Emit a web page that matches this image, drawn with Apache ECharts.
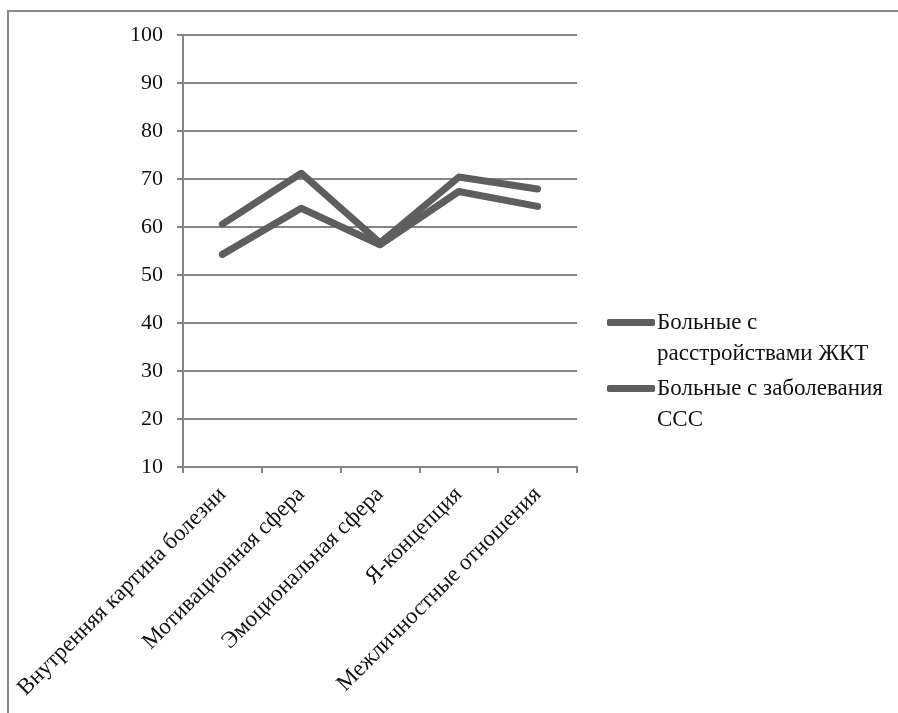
<!DOCTYPE html>
<html>
<head>
<meta charset="utf-8">
<script src="https://cdn.jsdelivr.net/npm/echarts@6/dist/echarts.min.js"></script>
<style>
  html, body { margin: 0; padding: 0; background: #fff; }
  #chart { width: 898px; height: 713px; }
</style>
</head>
<body>
<div id="chart"></div>
<script>
// Categories of the personality scales
const categories = [
  'Внутренняя картина болезни',
  'Мотивационная сфера',
  'Эмоциональная сфера',
  'Я-концепция',
  'Межличностные отношения'
];

// Series names (legend wraps onto two lines)
const seriesNames = [
  'Больные с\nрасстройствами ЖКТ',
  'Больные с заболевания\nССС'
];

// Mean scores per scale
const valuesGI = [60.6, 71.2, 56.7, 70.4, 67.9];
const valuesCV = [54.3, 63.9, 56.3, 67.4, 64.3];

// Value axis ticks
const yMin = 10;
const yMax = 100;
const yStep = 10;

const lineColor = '#5e5e5e';
const axisColor = '#858585';
const font = '"Liberation Serif", "Times New Roman", serif';
const legendLine = 31;

const chart = echarts.init(document.getElementById('chart'), null, { renderer: 'canvas' });

chart.setOption({
  backgroundColor: '#ffffff',
  animation: false,
  textStyle: { fontFamily: font },
  grid: { left: 183, right: 321, top: 35, bottom: 246, containLabel: false },
  legend: {
    orient: 'vertical',
    left: 607,
    top: 276,
    padding: 0,
    itemWidth: 48,
    itemHeight: 7,
    itemGap: -27,
    icon: 'roundRect',
    // a leading blank line keeps the first text line level with the icon
    formatter: name => '\n' + name,
    textStyle: {
      fontFamily: font,
      fontSize: 23,
      color: '#111',
      lineHeight: legendLine,
      padding: [0, 0, 0, -3]
    },
    data: seriesNames
  },
  xAxis: {
    type: 'category',
    data: categories,
    boundaryGap: true,
    axisLine: { lineStyle: { color: axisColor, width: 2 } },
    axisTick: { show: true, length: 6, lineStyle: { color: axisColor, width: 2 } },
    axisLabel: {
      rotate: 45,
      interval: 0,
      margin: 24,
      fontFamily: font,
      fontSize: 23,
      color: '#111'
    }
  },
  yAxis: {
    type: 'value',
    min: yMin,
    max: yMax,
    interval: yStep,
    axisLine: { show: true, lineStyle: { color: axisColor, width: 2 } },
    axisTick: { show: true, length: 6, lineStyle: { color: axisColor, width: 2 } },
    axisLabel: { fontFamily: font, fontSize: 22, color: '#111', margin: 20 },
    splitLine: { show: true, lineStyle: { color: axisColor, width: 2 } }
  },
  series: [
    {
      name: seriesNames[0],
      type: 'line',
      data: valuesGI,
      symbol: 'none',
      lineStyle: { color: lineColor, width: 7, cap: 'round', join: 'round' },
      itemStyle: { color: lineColor }
    },
    {
      name: seriesNames[1],
      type: 'line',
      data: valuesCV,
      symbol: 'none',
      lineStyle: { color: lineColor, width: 7, cap: 'round', join: 'round' },
      itemStyle: { color: lineColor }
    }
  ],
  graphic: [
    {
      type: 'polyline',
      silent: true,
      shape: { points: [[8, 713], [8, 11], [898, 11]] },
      style: { stroke: '#8a8a8a', lineWidth: 2, fill: null }
    }
  ]
});
</script>
</body>
</html>
